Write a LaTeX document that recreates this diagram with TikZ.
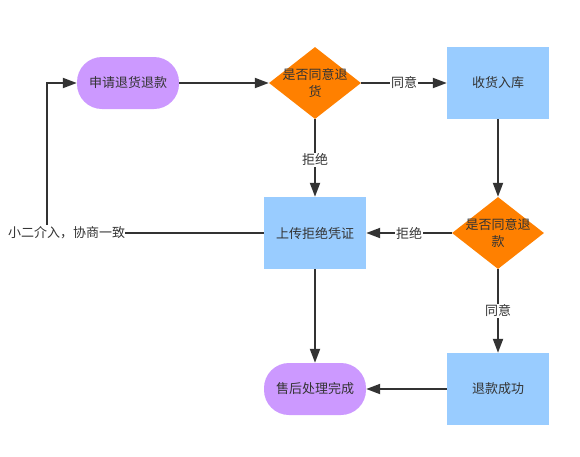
\documentclass[tikz,border=0pt]{standalone}
\usepackage{fontspec}
\setmainfont{Noto Sans CJK SC}
\usetikzlibrary{arrows.meta,shapes.geometric}
\definecolor{pur}{RGB}{204,153,255}
\definecolor{blu}{RGB}{153,204,255}
\definecolor{org}{RGB}{255,128,0}
\definecolor{ink}{RGB}{51,51,51}
\begin{document}
\begin{tikzpicture}[x=1pt,y=-1pt,
  every node/.style={font=\fontsize{13}{17}\selectfont, text=ink},
  term/.style={fill=pur, rounded corners=25pt, minimum width=102pt, minimum height=52pt, inner sep=0pt},
  proc/.style={fill=blu, minimum width=102pt, minimum height=72pt, inner sep=0pt},
  dec/.style={fill=org, diamond, minimum width=92pt, minimum height=72pt, inner sep=-14pt, aspect=1.28, align=center},
  conn/.style={draw=ink, line width=2pt, -{Triangle[length=14pt,width=10pt]}},
  lab/.style={fill=white, inner sep=1pt}]
\useasboundingbox (0,0) rectangle (580,456);
\node[term] (s1) at (128,83) {申请退货退款};
\node[dec] (d1) at (315,83) {是否同意退\\货};
\node[proc] (r1) at (498,83) {收货入库};
\node[dec] (d2) at (498,233) {是否同意退\\款};
\node[proc] (r2) at (315,233) {上传拒绝凭证};
\node[proc] (r3) at (498,389) {退款成功};
\node[term] (s2) at (315,389) {售后处理完成};
\node[inner sep=0pt, anchor=west] (txt) at (8,233) {小二介入，协商一致};
\coordinate (c1) at (47,225);
\draw[conn] (s1) -- (d1);
\draw[conn] (d1) -- node[lab]{同意} (r1);
\draw[conn] (d1) -- node[lab, pos=0.52]{拒绝} (r2);
\draw[conn] (r1) -- (d2);
\draw[conn] (d2) -- node[lab]{拒绝} (r2);
\draw[conn] (d2) -- node[lab]{同意} (r3);
\draw[conn] (r2) -- (s2);
\draw[conn] (r3) -- (s2);
\draw[draw=ink, line width=2pt] (r2.west) -- (txt.east);
\draw[conn] (c1) |- (s1.west);
\end{tikzpicture}
\end{document}
